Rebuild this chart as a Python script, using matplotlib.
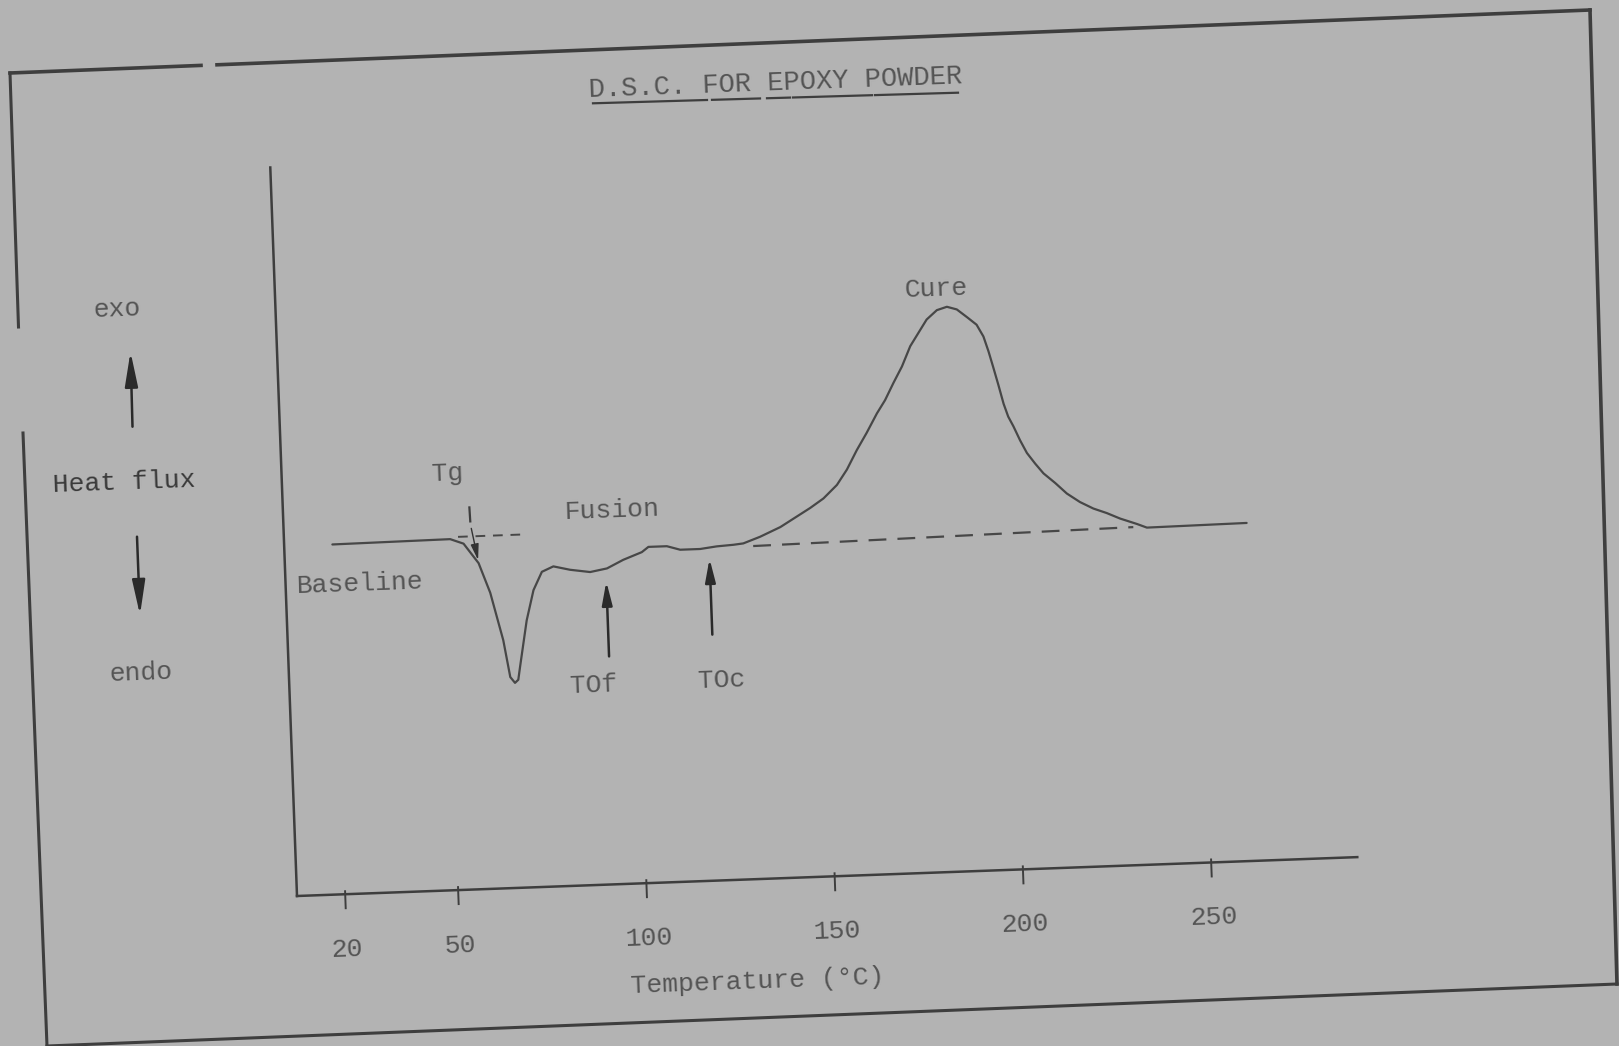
import matplotlib
matplotlib.use("Agg")
import matplotlib.pyplot as plt
from matplotlib.transforms import Affine2D
import numpy as np

# DSC trace: temperature (degC) vs heat flux (arbitrary units)
temp = [20, 51.3, 54.8, 58.6, 61.4, 64.4, 65.9, 67.1, 68.0, 68.6, 70.8, 72.9,
        75.3, 78.4, 82.8, 88.1, 92.6, 97.0, 102.0, 103.8, 108.7, 112.2, 117.5,
        121.9, 126.4, 129.0, 133.5, 139.0, 147.1, 150.7, 154.4, 157.2, 160.0,
        162.8, 165.7, 168.0, 170.4, 172.8, 175.2, 177.5, 179.8, 182.6, 185.3,
        187.9, 190.5, 193.0, 194.7, 195.9, 197.0, 198.2, 199.4, 200.5, 201.8,
        203.4, 205.1, 207.2, 209.3, 212.3, 215.3, 218.7, 222.2, 225.7, 229.2,
        233.6, 236.2, 262.7]
flux = [35.0, 35.1, 34.6, 32.6, 29.6, 24.8, 21.1, 20.5, 20.8, 22.1, 26.7, 29.7,
        31.5, 32.0, 31.6, 31.3, 31.6, 32.4, 33.1, 33.6, 33.6, 33.2, 33.2,
        33.4, 33.5, 33.6, 34.2, 35.1, 36.9, 37.8, 39.1, 40.6, 42.5,
        44.2, 46.1, 47.4, 49.1, 50.7, 52.7, 54.0, 55.3, 56.2, 56.5,
        56.2, 55.4, 54.6, 53.4, 51.9, 50.3, 48.5, 46.6, 45.3, 44.3,
        42.9, 41.6, 40.5, 39.5, 38.5, 37.4, 36.5, 35.8, 35.3, 34.7,
        34.1, 33.7, 33.8]

# extrapolated baselines (dashed)
tg_base_t = [53.4, 69.9]
tg_base_f = [35.3, 35.3]
cure_base_t = [131.6, 232.6]
cure_base_f = [33.3, 33.8]

xticks = [20, 50, 100, 150, 200, 250]

# onset arrows: (label, temp, tail flux, head flux, label temp, label flux)
onsets = [("TOf", 92.3, 22.8, 30.3, 87.8, 20.0),
          ("TOc", 119.9, 24.6, 32.2, 122.0, 20.0)]

tilt = 2.1          # the scan is slightly rotated
bg = "#b3b3b3"
ink = "#3e3e3e"
curve_c = "#474747"
txt = "#545454"
font = "Liberation Mono"

fig = plt.figure(figsize=(16.19, 10.46), dpi=100)
fig.patch.set_facecolor(bg)

# page layer in pixel coordinates (border, title, side labels)
paper = fig.add_axes([0, 0, 1, 1])
paper.set_xlim(0, 1619)
paper.set_ylim(1046, 0)
paper.axis("off")

# outer frame of the sheet
paper.plot([10, 201], [73, 65.4], color=ink, lw=2.6)
paper.plot([217, 1590], [64.8, 10], color=ink, lw=2.6)
paper.plot([1590, 1617], [10, 984], color=ink, lw=2.6)
paper.plot([1617, 47], [984, 1046], color=ink, lw=2.2)
paper.plot([10, 18.5], [73, 327], color=ink, lw=2.2)
paper.plot([23, 47], [433, 1046], color=ink, lw=2.2)

paper.text(775, 83, "D.S.C. FOR EPOXY POWDER", family=font, fontsize=19.5,
           color=txt, ha="center", va="center", rotation=tilt)
ux = np.array([593, 958])
uy = np.array([103.3, 92.7])
for a, b in [(593, 707), (712, 760), (767, 790), (793, 872), (875, 958)]:
    paper.plot([a, b], np.interp([a, b], ux, uy), color=ink, lw=1.6)

paper.text(116.7, 309, "exo", family=font, fontsize=19, color=txt,
           ha="center", va="center", rotation=tilt)
paper.text(124, 482, "Heat flux", family=font, fontsize=19, color="#3a3a3a",
           ha="center", va="center", rotation=tilt)
paper.text(141, 673, "endo", family=font, fontsize=19, color=txt,
           ha="center", va="center", rotation=tilt)
arr = dict(arrowstyle="-|>,head_length=1.5,head_width=0.28", color="#2a2a2a",
           lw=1.8, shrinkA=0, shrinkB=0, mutation_scale=14)
paper.annotate("", xy=(130.5, 351.7), xytext=(132.5, 426.7), arrowprops=arr)
paper.annotate("", xy=(140, 615), xytext=(137, 536.7), arrowprops=arr)

# chart in its own (unrotated) frame, then tilted like the scan
ax = fig.add_axes([297 / 1619, 150 / 1046, 1061 / 1619, 729 / 1046])
ax.set_xlim(7.2, 288.8)
ax.set_ylim(0, 72.9)
ax.axis("off")
tr = ax.transData + Affine2D().rotate_deg_around(297, 150, tilt)

x0, x1 = ax.get_xlim()
y0, y1 = ax.get_ylim()
ax.plot([x0, x1], [0, 0], color=ink, lw=1.8, transform=tr, clip_on=False)
ax.plot([x0, x0], [0, y1], color=ink, lw=1.8, transform=tr, clip_on=False)
for t in xticks:
    ax.plot([t, t], [0.3, -1.4], color=ink, lw=1.4, transform=tr, clip_on=False)
    ax.text(t, -5.5, str(t), family=font, fontsize=19, color=txt,
            ha="center", va="center", rotation=tilt, transform=tr)
ax.text(128.4, -10.2, "Temperature (°C)", family=font, fontsize=19, color=txt,
        ha="center", va="center", rotation=tilt, transform=tr)

ax.plot(temp, flux, color=curve_c, lw=1.6, transform=tr, clip_on=False,
        solid_joinstyle="round", solid_capstyle="round")
ax.plot(tg_base_t, tg_base_f, color=curve_c, lw=1.4, ls=(0, (5, 4)),
        transform=tr, clip_on=False)
ax.plot(cure_base_t, cure_base_f, color=curve_c, lw=1.6, ls=(0, (8, 5)),
        transform=tr, clip_on=False)

# Tg marker
ax.plot([56.7, 56.8], [38.2, 36.8], color=ink, lw=1.6, transform=tr)
ax.annotate("", xy=(58.5, 32.9), xytext=(57.0, 36.1), xycoords=tr,
            arrowprops=dict(arrowstyle="-|>,head_length=0.8,head_width=0.2",
                            color="#333333", lw=1.0, shrinkA=0, shrinkB=0,
                            mutation_scale=12))

sm = dict(arrowstyle="-|>,head_length=1.0,head_width=0.22", color="#2a2a2a",
          lw=1.8, shrinkA=0, shrinkB=0, mutation_scale=14)
for name, t, f_tail, f_head, lt, lf in onsets:
    ax.annotate("", xy=(t, f_head), xytext=(t, f_tail), xycoords=tr,
                arrowprops=sm)
    ax.text(lt, lf, name, family=font, fontsize=19, color=txt,
            ha="center", va="center", rotation=tilt, transform=tr)

for s, t, f in [("Tg", 51.3, 41.7), ("Fusion", 94.4, 37.4),
                ("Baseline", 27.0, 31.0), ("Cure", 182.6, 58.3)]:
    ax.text(t, f, s, family=font, fontsize=19, color=txt,
            ha="center", va="center", rotation=tilt, transform=tr)

fig.savefig("out.png", dpi=100, facecolor=bg)
